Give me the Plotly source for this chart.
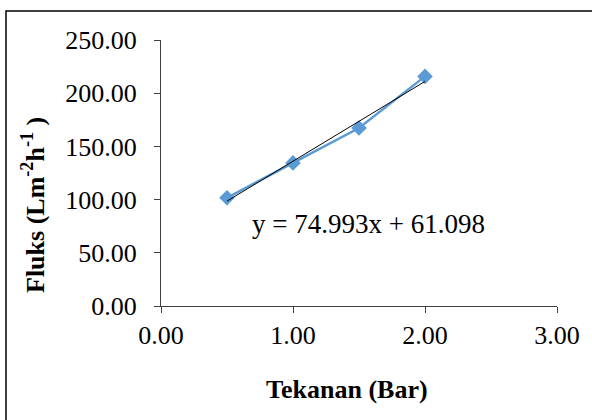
import plotly.graph_objects as go

# Data
pressure = [0.5, 1.0, 1.5, 2.0]
flux = [101.7, 134.5, 167.3, 215.8]
slope = 74.993
intercept = 61.098
eq_label = "y = 74.993x + 61.098"
x_ticks = [0, 1, 2, 3]
y_ticks = [0, 50, 100, 150, 200, 250]

W, H = 592, 420
L, R, T, B = 161, 557, 40, 306
pw, ph = R - L, B - T

def px_x(p):
    return (p - L) / pw

def px_y(p):
    return (B - p) / ph

fig = go.Figure()
fig.add_trace(go.Scatter(
    x=pressure, y=flux, mode="lines+markers",
    line=dict(color="#5B9BD5", width=2.5),
    marker=dict(symbol="diamond", size=12, color="#5B9BD5"),
    showlegend=False, cliponaxis=False))
tx = [pressure[0], pressure[-1]]
fig.add_trace(go.Scatter(
    x=tx, y=[slope * v + intercept for v in tx], mode="lines",
    line=dict(color="black", width=1), showlegend=False))

font = "Liberation Serif"
FS = 26
fig.add_annotation(x=px_x(250), y=px_y(224), xref="paper", yref="paper", text=eq_label,
                   showarrow=False, xanchor="left", yanchor="middle",
                   font=dict(family=font, size=27, color="black"))
fig.add_annotation(x=px_x(347), y=px_y(389), xref="paper", yref="paper",
                   text="<b>Tekanan (Bar)</b>", showarrow=False,
                   xanchor="center", yanchor="middle",
                   font=dict(family=font, size=FS, color="black"))
fig.add_annotation(x=px_x(33), y=px_y(205), xref="paper", yref="paper",
                   text="<b>Fluks (Lm<sup>-2</sup>h<sup>-1</sup> )</b>", showarrow=False,
                   textangle=-90, xanchor="center", yanchor="middle",
                   font=dict(family=font, size=FS, color="black"))

# chart border (only top/left visible)
fig.add_shape(type="rect", xref="paper", yref="paper",
              x0=px_x(6), x1=px_x(W + 10),
              y0=px_y(H + 10), y1=px_y(11),
              line=dict(color="black", width=1.5), fillcolor="rgba(0,0,0,0)")

fig.update_layout(
    width=W, height=H,
    margin=dict(l=L, r=W - R, t=T, b=H - B, autoexpand=False),
    paper_bgcolor="white", plot_bgcolor="white",
    font=dict(family=font, size=FS, color="black"),
    xaxis=dict(range=[0, 3], tickvals=x_ticks,
               ticktext=[f"{v:.2f}" for v in x_ticks],
               showgrid=False, zeroline=False, showline=True,
               linecolor="#404040", linewidth=1,
               ticks="outside", ticklen=6, tickcolor="#404040",
               tickfont=dict(family=font, size=FS)),
    yaxis=dict(range=[0, 250], tickvals=y_ticks,
               ticktext=[f"{v:.2f}" for v in y_ticks],
               showgrid=False, zeroline=False, showline=True,
               linecolor="#404040", linewidth=1,
               ticks="outside", ticklen=6, tickcolor="#404040",
               ticklabelstandoff=12,
               tickfont=dict(family=font, size=FS)),
)
fig.write_html("out.html", config={"displayModeBar": False},
               post_script="document.body.style.margin='0';document.body.style.overflow='hidden';")
